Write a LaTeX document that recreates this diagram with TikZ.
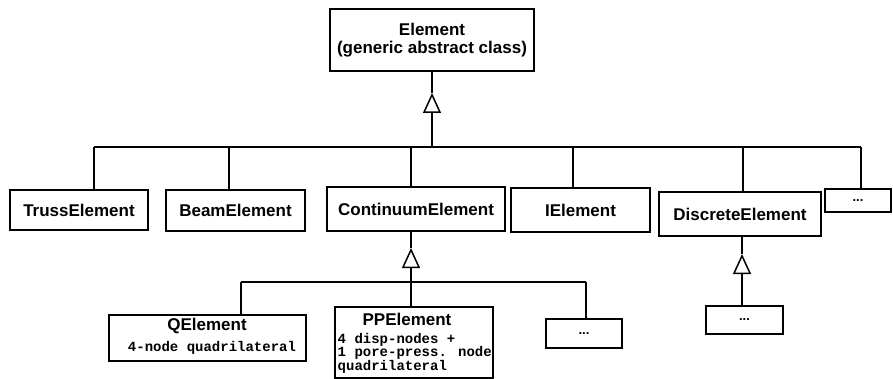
\documentclass[tikz,border=0pt]{standalone}
\usepackage{fontspec}
\setmainfont{Liberation Sans}
\newfontfamily\codefont{Liberation Mono}
\usetikzlibrary{arrows.meta}
\begin{document}
\begin{tikzpicture}[x=1pt,y=-1pt,
  cls/.style={draw, line width=1.4pt, inner sep=0pt, align=center,
    font=\fontsize{17}{18}\selectfont\bfseries},
  plain/.style={inner sep=0pt, font=\fontsize{17}{18}\selectfont\bfseries},
  code/.style={inner sep=0pt, align=left,
    font=\fontsize{14}{13.5}\selectfont\codefont\bfseries},
  dots/.style={font=\fontsize{13}{13}\selectfont\bfseries},
  link/.style={line width=1.5pt},
  inherit/.style={link, -{Triangle[open, length=20pt, width=18pt]}}]

\useasboundingbox (0,0) rectangle (893,379);

% root class
\node[cls, minimum width=204pt, minimum height=62pt] (elem) at (432,40)
  {Element\\(generic abstract class)};

% first level of subclasses
\node[cls, minimum width=138pt, minimum height=40pt] (truss) at (79,210) {TrussElement};
\node[cls, minimum width=139pt, minimum height=41pt] (beam) at (235.5,210.5) {BeamElement};
\node[cls, minimum width=178pt, minimum height=44pt] (cont) at (416,209) {ContinuumElement};
\node[cls, minimum width=139pt, minimum height=44pt] (ielem) at (580.5,210) {IElement};
\node[cls, minimum width=162pt, minimum height=44pt] (disc) at (740,214) {DiscreteElement};
\node[cls, dots, minimum width=66pt, minimum height=23pt] (more1) at (858,200.5) {...};

% subclasses of ContinuumElement
\node[cls, minimum width=197pt, minimum height=46pt] (qel) at (207.5,338) {};
\node[plain] (qname) at (207,326) {QElement};
\node[code] (qnote) at (212,348) {4-node quadrilateral};

\node[cls, minimum width=158pt, minimum height=71pt] (pp) at (414,342.5) {};
\node[plain] (ppname) at (407,319) {PPElement};
\node[code, anchor=north west] (ppnote) at (337.5,333)
  {4 disp-nodes +\\1 pore-press. node\\quadrilateral};

\node[cls, dots, minimum width=76pt, minimum height=29pt] (more2) at (584,333.5) {...};

% subclass of DiscreteElement
\node[cls, dots, minimum width=77pt, minimum height=28pt] (more3) at (744.5,320) {...};

% inheritance from Element
\coordinate (tip0) at (432,93);
\coordinate (hub0) at (432,147);
\coordinate (busL) at (94,147);
\coordinate (busR) at (861,147);
\coordinate (sBeam) at (229,147);
\coordinate (sCont) at (411,147);
\coordinate (sIel) at (573,147);
\coordinate (sDisc) at (743,147);
\draw[link] (elem.south) -- (tip0);
\draw[inherit] (hub0) -- (tip0);
\draw[link] (busL) -- (busR);
\draw[link] (busL) -- (busL |- truss.north);
\draw[link] (sBeam) -- (sBeam |- beam.north);
\draw[link] (sCont) -- (sCont |- cont.north);
\draw[link] (sIel) -- (sIel |- ielem.north);
\draw[link] (sDisc) -- (sDisc |- disc.north);
\draw[link] (busR) -- (busR |- more1.north);

% inheritance from ContinuumElement
\coordinate (tip1) at (411,248);
\coordinate (hub1) at (411,282);
\coordinate (subL) at (241,282);
\coordinate (subR) at (586,282);
\draw[link] (tip1 |- cont.south) -- (tip1);
\draw[inherit] (hub1) -- (tip1);
\draw[link] (subL) -- (subR);
\draw[link] (subL) -- (subL |- qel.north);
\draw[link] (hub1) -- (hub1 |- pp.north);
\draw[link] (subR) -- (subR |- more2.north);

% inheritance from DiscreteElement
\coordinate (tip2) at (742,254);
\draw[link] (tip2 |- disc.south) -- (tip2);
\draw[inherit] (tip2 |- more3.north) -- (tip2);
\end{tikzpicture}
\end{document}
